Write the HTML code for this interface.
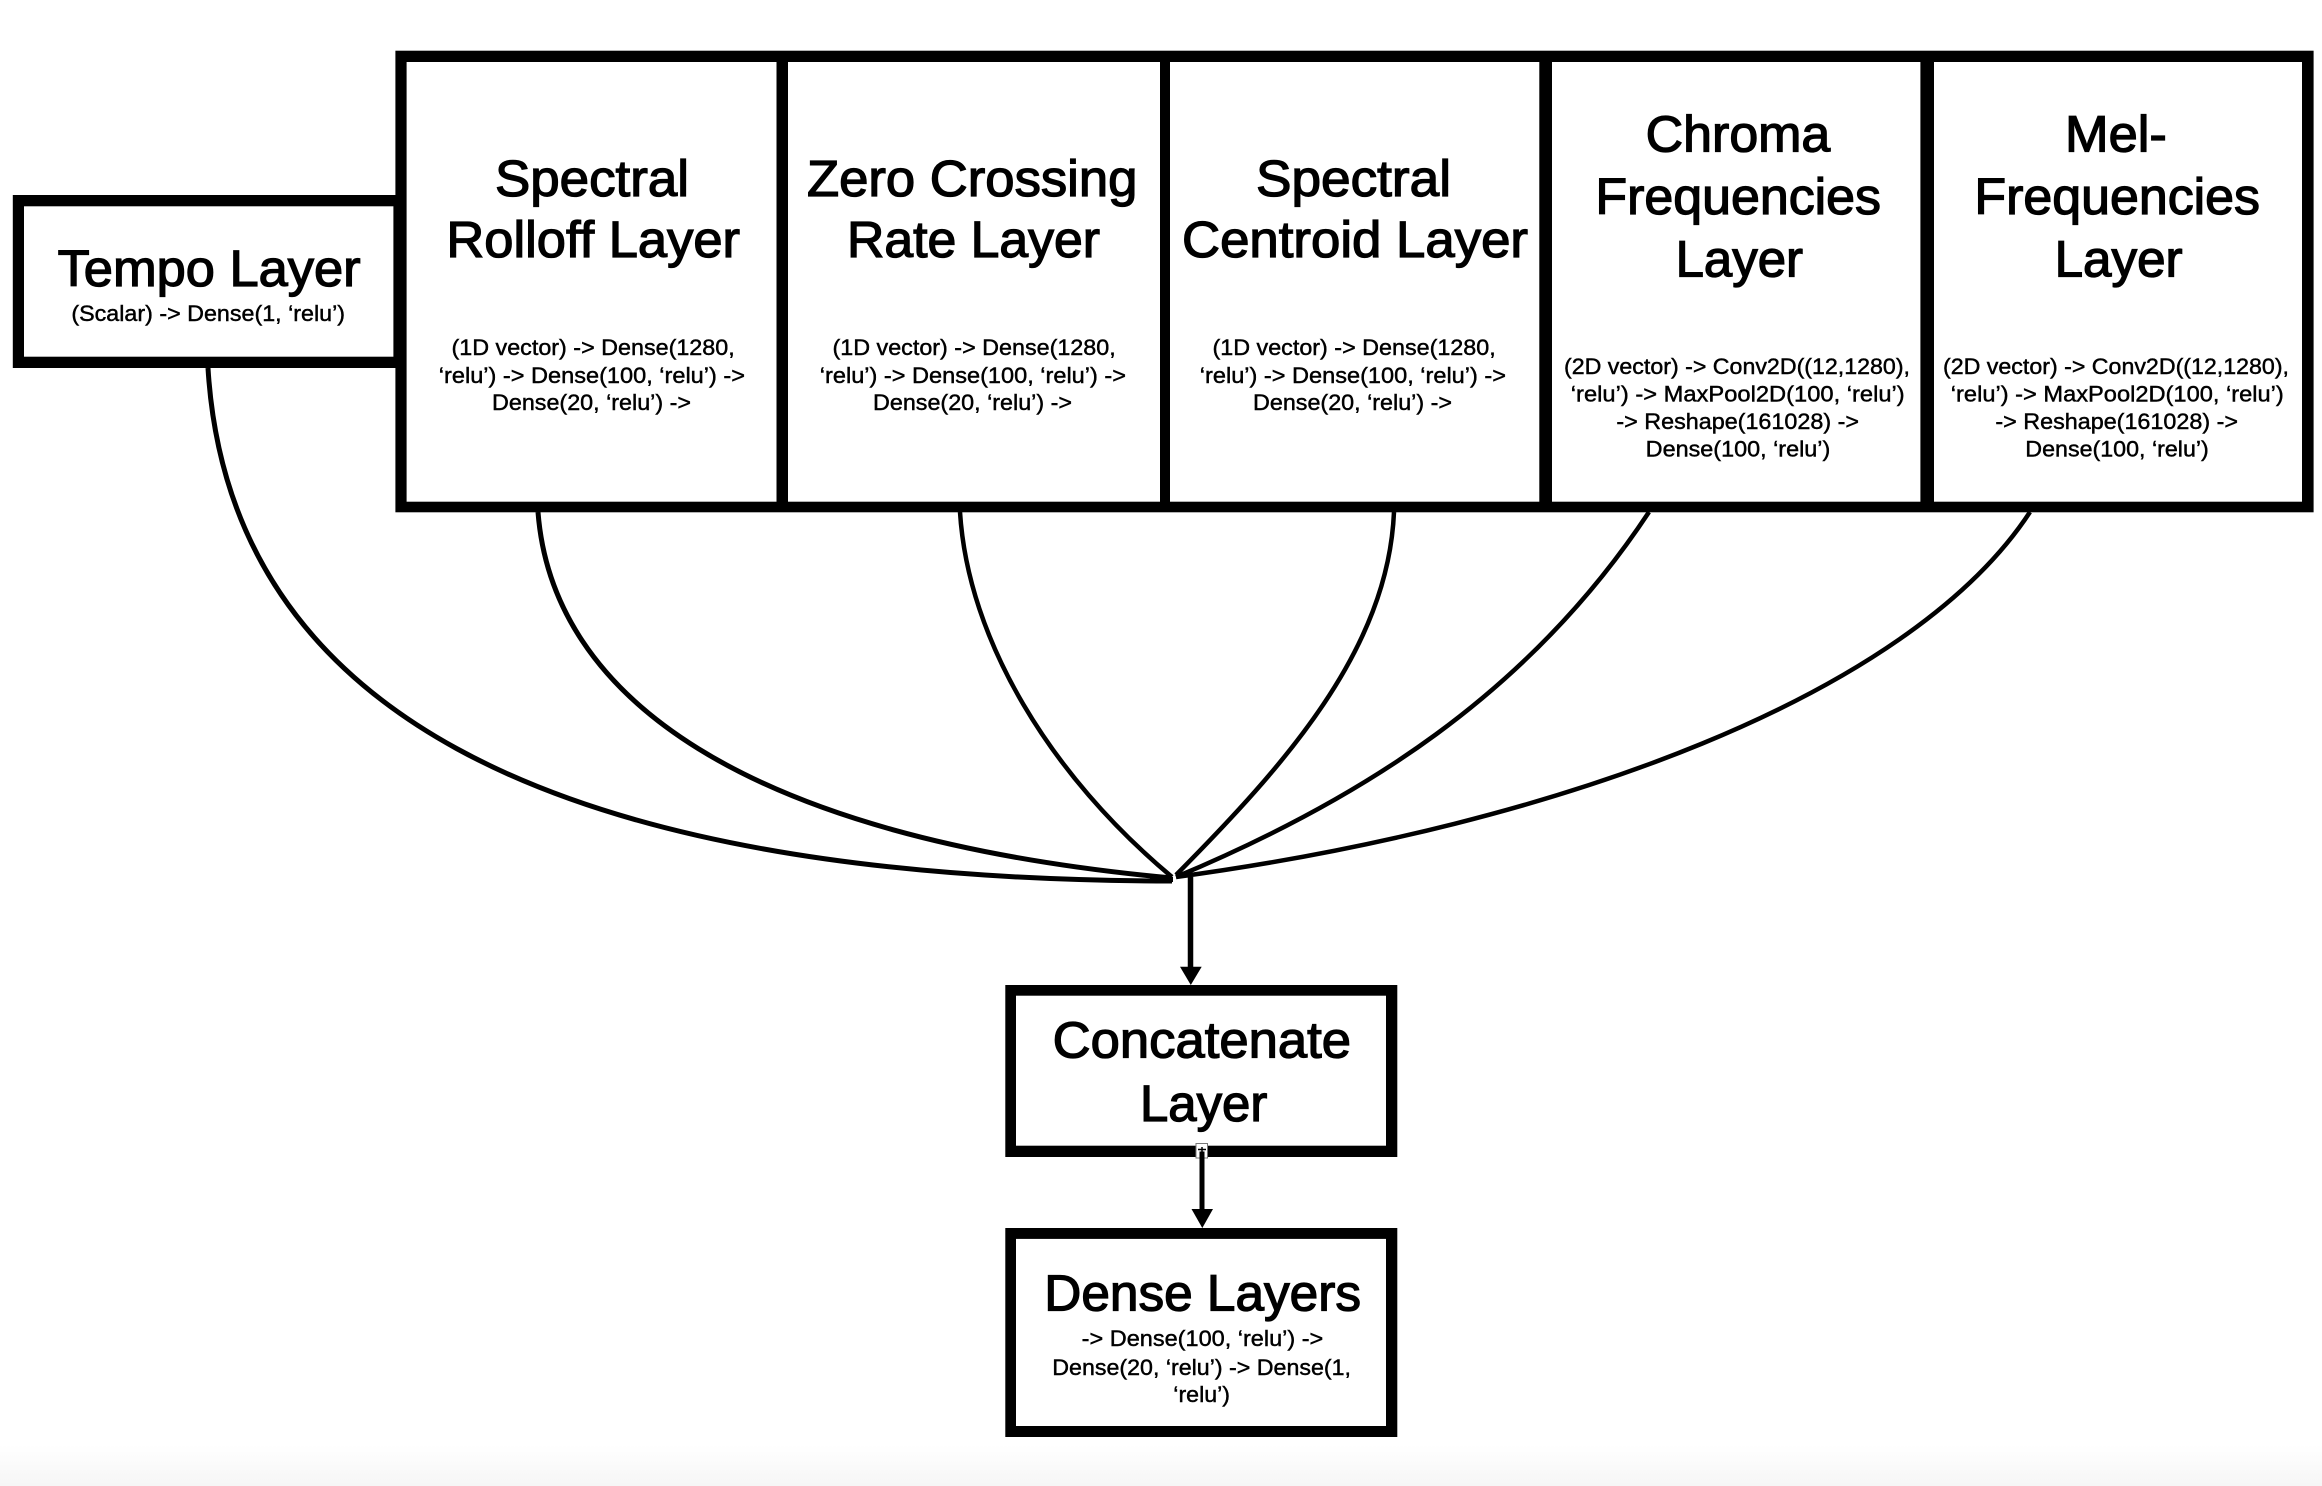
<!DOCTYPE html>
<html>
<head>
<meta charset="utf-8">
<style>
html,body{margin:0;padding:0;background:#fff;width:2322px;height:1486px;overflow:hidden}
svg{display:block}
text{font-family:"Liberation Sans",sans-serif;fill:#000}
.t{font-size:51px;stroke:#000;stroke-width:1.3px}
.s{font-size:22.5px;stroke:#000;stroke-width:.45px}
.c{fill:none;stroke:#000;stroke-width:4.5}
</style>
</head>
<body>
<svg width="2322" height="1486" viewBox="0 0 2322 1486" xmlns="http://www.w3.org/2000/svg">
<defs><linearGradient id="g" x1="0" y1="0" x2="0" y2="1"><stop offset="0" stop-color="#fff"/><stop offset="1" stop-color="#f6f6f6"/></linearGradient></defs>
<rect x="0" y="1445" width="2322" height="41" fill="url(#g)"/>

<!-- connectors -->
<path class="c" style="stroke-width:5" d="M208 368C228 700 530 880 1172 881"/>
<path class="c" style="stroke-width:5" d="M538 512C552 695 740 838 1172 878"/>
<path class="c" d="M960 512C968 640 1050 775 1172 877"/>
<path class="c" d="M1394 512C1388 650 1285 765 1176 875"/>
<path class="c" d="M1649 512C1528 695 1360 800 1176 877"/>
<path class="c" d="M2030 512C1910 695 1560 825 1176 877"/>
<rect x="1150" y="877" width="23" height="5" fill="#000"/>

<path d="M1190.5 877V970" stroke="#000" stroke-width="5.5" fill="none"/>
<polygon points="1180,966.7 1201.7,966.7 1190.8,985" fill="#000"/>

<!-- Tempo -->
<rect x="12.8" y="195" width="384" height="173" fill="#000"/>
<rect x="24" y="206.3" width="369.4" height="150.4" fill="#fff"/>

<!-- Top row -->
<rect x="395.4" y="50.7" width="1918.2" height="461.6" fill="#000"/>
<rect x="406.6" y="62" width="369.9" height="439.7" fill="#fff"/>
<rect x="788" y="62" width="372" height="439.7" fill="#fff"/>
<rect x="1170" y="62" width="369.3" height="439.7" fill="#fff"/>
<rect x="1552" y="62" width="368.4" height="439.7" fill="#fff"/>
<rect x="1934" y="62" width="368" height="439.7" fill="#fff"/>

<!-- Concatenate -->
<rect x="1005.3" y="985" width="392" height="172" fill="#000"/>
<rect x="1016" y="995.7" width="370" height="150" fill="#fff"/>
<!-- Dense -->
<rect x="1005.3" y="1228" width="392" height="209" fill="#000"/>
<rect x="1016" y="1238.9" width="370" height="187.1" fill="#fff"/>

<!-- lower arrow -->
<rect x="1196" y="1143.5" width="11.5" height="14.5" fill="#fff" stroke="#777" stroke-width="1"/>
<path d="M1198 1149.5H1206M1202 1147V1152" stroke="#000" stroke-width="1.5" fill="none"/>
<path d="M1202 1151.5V1212" stroke="#000" stroke-width="5" fill="none"/>
<polygon points="1191.5,1209 1213,1209 1202.3,1228" fill="#000"/>

<!-- Tempo text -->
<text class="t" x="57.6" y="286" textLength="303" lengthAdjust="spacingAndGlyphs">Tempo Layer</text>
<text class="s" x="71.4" y="321" textLength="273.6" lengthAdjust="spacingAndGlyphs">(Scalar) -&gt; Dense(1, ‘relu’)</text>

<!-- Rolloff -->
<text class="t" x="495" y="196" textLength="194" lengthAdjust="spacingAndGlyphs">Spectral</text>
<text class="t" x="446.4" y="257" textLength="293.6" lengthAdjust="spacingAndGlyphs">Rolloff Layer</text>
<text class="s" x="451.5" y="355" textLength="283.2" lengthAdjust="spacingAndGlyphs">(1D vector) -&gt; Dense(1280,</text>
<text class="s" x="438.8" y="383" textLength="306.2" lengthAdjust="spacingAndGlyphs">‘relu’) -&gt; Dense(100, ‘relu’) -&gt;</text>
<text class="s" x="492" y="410" textLength="199" lengthAdjust="spacingAndGlyphs">Dense(20, ‘relu’) -&gt;</text>

<!-- Zero crossing -->
<text class="t" x="807" y="196" textLength="330.4" lengthAdjust="spacingAndGlyphs">Zero Crossing</text>
<text class="t" x="847" y="257" textLength="253" lengthAdjust="spacingAndGlyphs">Rate Layer</text>
<text class="s" x="832.5" y="355" textLength="283.2" lengthAdjust="spacingAndGlyphs">(1D vector) -&gt; Dense(1280,</text>
<text class="s" x="819.8" y="383" textLength="306.2" lengthAdjust="spacingAndGlyphs">‘relu’) -&gt; Dense(100, ‘relu’) -&gt;</text>
<text class="s" x="873" y="410" textLength="199" lengthAdjust="spacingAndGlyphs">Dense(20, ‘relu’) -&gt;</text>

<!-- Centroid -->
<text class="t" x="1256" y="196" textLength="195" lengthAdjust="spacingAndGlyphs">Spectral</text>
<text class="t" x="1182" y="257" textLength="346" lengthAdjust="spacingAndGlyphs">Centroid Layer</text>
<text class="s" x="1212.5" y="355" textLength="283.2" lengthAdjust="spacingAndGlyphs">(1D vector) -&gt; Dense(1280,</text>
<text class="s" x="1199.8" y="383" textLength="306.2" lengthAdjust="spacingAndGlyphs">‘relu’) -&gt; Dense(100, ‘relu’) -&gt;</text>
<text class="s" x="1253" y="410" textLength="199" lengthAdjust="spacingAndGlyphs">Dense(20, ‘relu’) -&gt;</text>

<!-- Chroma -->
<text class="t" x="1645.7" y="151.7" textLength="184.6" lengthAdjust="spacingAndGlyphs">Chroma</text>
<text class="t" x="1595.4" y="214" textLength="285.6" lengthAdjust="spacingAndGlyphs">Frequencies</text>
<text class="t" x="1675.6" y="276.7" textLength="127.4" lengthAdjust="spacingAndGlyphs">Layer</text>
<text class="s" x="1564" y="374" textLength="346" lengthAdjust="spacingAndGlyphs">(2D vector) -&gt; Conv2D((12,1280),</text>
<text class="s" x="1570.8" y="401.7" textLength="333.9" lengthAdjust="spacingAndGlyphs">‘relu’) -&gt; MaxPool2D(100, ‘relu’)</text>
<text class="s" x="1616.4" y="429" textLength="242.6" lengthAdjust="spacingAndGlyphs">-&gt; Reshape(161028) -&gt;</text>
<text class="s" x="1645.7" y="456.7" textLength="184.6" lengthAdjust="spacingAndGlyphs">Dense(100, ‘relu’)</text>

<!-- Mel -->
<text class="t" x="2065" y="151.7" textLength="101.8" lengthAdjust="spacingAndGlyphs">Mel-</text>
<text class="t" x="1974.4" y="214" textLength="285.6" lengthAdjust="spacingAndGlyphs">Frequencies</text>
<text class="t" x="2054.6" y="276.7" textLength="128" lengthAdjust="spacingAndGlyphs">Layer</text>
<text class="s" x="1943" y="374" textLength="346" lengthAdjust="spacingAndGlyphs">(2D vector) -&gt; Conv2D((12,1280),</text>
<text class="s" x="1950.8" y="401.7" textLength="333" lengthAdjust="spacingAndGlyphs">‘relu’) -&gt; MaxPool2D(100, ‘relu’)</text>
<text class="s" x="1995.4" y="429" textLength="242.6" lengthAdjust="spacingAndGlyphs">-&gt; Reshape(161028) -&gt;</text>
<text class="s" x="2025.3" y="456.7" textLength="183.5" lengthAdjust="spacingAndGlyphs">Dense(100, ‘relu’)</text>

<!-- Concatenate text -->
<text class="t" x="1052.7" y="1057.6" textLength="298.3" lengthAdjust="spacingAndGlyphs">Concatenate</text>
<text class="t" x="1140" y="1121" textLength="127.3" lengthAdjust="spacingAndGlyphs">Layer</text>

<!-- Dense text -->
<text class="t" x="1044.3" y="1310.5" textLength="316.7" lengthAdjust="spacingAndGlyphs">Dense Layers</text>
<text class="s" x="1081.7" y="1346" textLength="241.6" lengthAdjust="spacingAndGlyphs">-&gt; Dense(100, ‘relu’) -&gt;</text>
<text class="s" x="1052.3" y="1375" textLength="298.7" lengthAdjust="spacingAndGlyphs">Dense(20, ‘relu’) -&gt; Dense(1,</text>
<text class="s" x="1173.3" y="1402" textLength="56.7" lengthAdjust="spacingAndGlyphs">‘relu’)</text>
</svg>
</body>
</html>
